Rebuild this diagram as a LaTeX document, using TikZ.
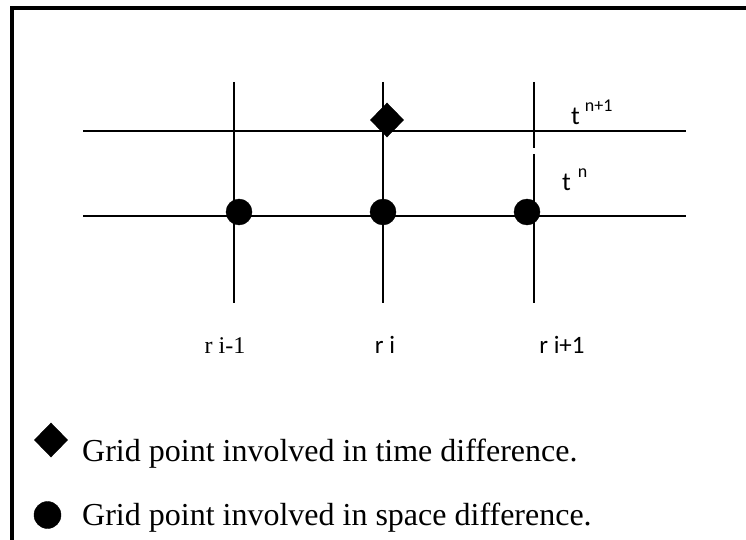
\documentclass[tikz,border=0pt]{standalone}
\usepackage{fontspec}
\setmainfont{Liberation Serif}
\newfontfamily\calibrifont{Carlito}
\usetikzlibrary{plotmarks}

\begin{document}
\begin{tikzpicture}[x=1pt,y=-1pt]
  \useasboundingbox (0,0) rectangle (746,540);
  \tikzset{gridline/.style={line width=2.5pt},
    rlabel/.style={anchor=base,inner sep=0pt,font=\calibrifont\fontsize{25}{25}\selectfont},
    tlabel/.style={anchor=base west,inner sep=0pt,font=\calibrifont\fontsize{26}{26}\selectfont},
    legendtext/.style={anchor=base west,inner sep=0pt,font=\fontsize{32}{32}\selectfont}}
  \draw[line width=4pt] (12,540) -- (12,8) -- (748,8);
  \draw[gridline] (83,131) -- (686,131);
  \draw[gridline] (83,216) -- (686,216);
  \foreach \x in {234,383} \draw[gridline] (\x,82) -- (\x,303);
  \draw[gridline] (534,82) -- (534,148) (534,154) -- (534,303);
  \tikzset{every mark/.append style={fill=black,draw=none}}
  \draw plot[only marks,mark=*,mark size=13pt] coordinates {(239,212) (383,212) (527,212)};
  \draw plot[only marks,mark=diamond*,mark size=17pt,mark options={xscale=1.3}] coordinates {(387,120)};
  \node[tlabel] (tnext) at (571,125) {t\hspace{5pt}\raisebox{13pt}{\fontsize{18}{18}\selectfont n+1}};
  \node[tlabel] (tnow) at (562,190) {t\hspace{7pt}\raisebox{13pt}{\fontsize{18}{18}\selectfont n}};
  \node[rlabel,font=\fontsize{24}{24}\selectfont] (rleft) at (225,353) {r i-1};
  \node[rlabel] (rmid) at (385,353) {r i};
  \node[rlabel] (rright) at (562,353) {r i+1};
  % legend
  \draw plot[only marks,mark=diamond*,mark size=17pt,mark options={xscale=1.3}] coordinates {(51,440)};
  \draw plot[only marks,mark=*,mark size=13.5pt] coordinates {(47.5,515)};
  \node[legendtext] (timekey) at (82,461) {Grid point involved in time difference.};
  \node[legendtext] (spacekey) at (82,525) {Grid point involved in space difference.};
\end{tikzpicture}
\end{document}
